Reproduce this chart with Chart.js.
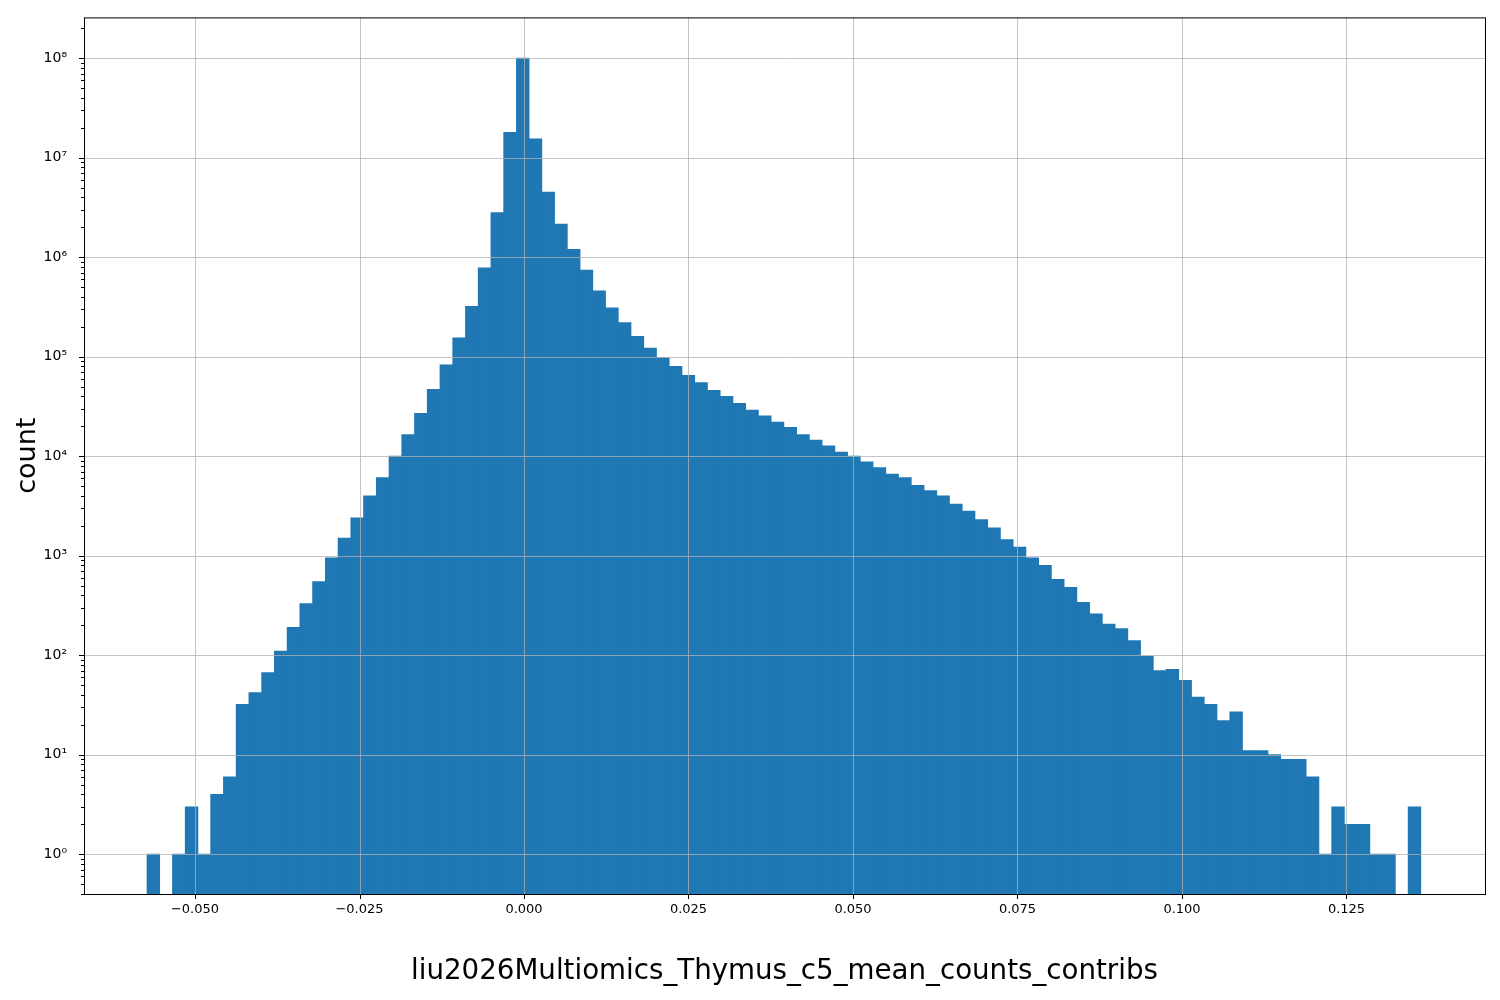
<!DOCTYPE html>
<html><head><meta charset="utf-8">
<script src="https://cdn.jsdelivr.net/npm/chart.js@4"></script>
<style>html,body{margin:0;padding:0;background:#fff}#w{width:1500px;height:1000px}</style>
</head><body><div id="w"><canvas id="c" width="1500" height="1000"></canvas></div>
<script>
const binStart = -0.0573;
const binWidth = 0.001936;
const counts = [1,0,1,3,1,4,6,32,42,67,110,190,330,550,950,1500,2400,4000,6100,10000,
16500,27000,47000,83000,155000,320000,780000,2800000,18000000,100000000,
15500000,4500000,2150000,1200000,740000,460000,310000,220000,160000,122000,
98000,80000,65000,55000,46000,40000,34000,29000,25500,22000,
19500,16500,14500,12700,11000,10000,8800,7700,6600,6100,
5100,4500,4000,3300,2800,2300,1900,1450,1220,950,
800,580,480,340,260,205,185,140,98,70,
72,56,38,32,22,27,11,11,10,9,
9,6,1,3,2,2,1,1,0,3];
const xTicks = [-0.05,-0.025,0,0.025,0.05,0.075,0.1,0.125];
const yTicks = [1,10,100,1e3,1e4,1e5,1e6,1e7,1e8];
const yMin = 0.398, yMax = 2.57e8;
const sup = {'0':'⁰','1':'¹','2':'²','3':'³','4':'⁴','5':'⁵','6':'⁶','7':'⁷','8':'⁸','-':'⁻'};
const data = counts.map((c,i)=>({x: binStart + binWidth*(i+0.5), y: c>0 ? [yMin, c] : null}));

const gridTop = {
  id:'gridTop',
  afterDatasetsDraw(ch){
    const {ctx, chartArea:a, scales:{x,y}} = ch;
    ctx.save();
    ctx.strokeStyle='rgba(176,176,176,0.75)'; ctx.lineWidth=1;
    xTicks.forEach(t=>{const p=Math.round(x.getPixelForValue(t))+0.5;ctx.beginPath();ctx.moveTo(p,a.top);ctx.lineTo(p,a.bottom);ctx.stroke();});
    yTicks.forEach(t=>{const p=Math.round(y.getPixelForValue(t))+0.5;ctx.beginPath();ctx.moveTo(a.left,p);ctx.lineTo(a.right,p);ctx.stroke();});
    ctx.strokeStyle='#000';
    xTicks.forEach(t=>{const p=Math.round(x.getPixelForValue(t))+0.5;ctx.beginPath();ctx.moveTo(p,a.bottom);ctx.lineTo(p,a.bottom+5);ctx.stroke();});
    yTicks.forEach(t=>{const p=Math.round(y.getPixelForValue(t))+0.5;ctx.beginPath();ctx.moveTo(a.left-5,p);ctx.lineTo(a.left,p);ctx.stroke();});
    for(let d=-1;d<=8;d++)for(let m=2;m<=9;m++){const v=m*Math.pow(10,d);if(v<yMin||v>yMax)continue;const p=Math.round(y.getPixelForValue(v))+0.5;ctx.beginPath();ctx.moveTo(a.left-3,p);ctx.lineTo(a.left,p);ctx.stroke();}
    ctx.strokeRect(a.left+0.5,a.top+0.5,a.right-a.left,a.bottom-a.top);
    ctx.restore();
  }
};

new Chart(document.getElementById('c'),{
  type:'bar',
  data:{datasets:[{data, backgroundColor:'#1f77b4', borderWidth:0, barPercentage:1, categoryPercentage:1, grouped:false}]},
  options:{
    responsive:false, animation:false,
    layout:{padding:{left:0,right:15,top:15,bottom:0}},
    plugins:{legend:{display:false},tooltip:{enabled:false}},
    scales:{
      x:{type:'linear', min:-0.06687, max:0.14605, offset:false,
        afterBuildTicks(s){s.ticks=xTicks.map(v=>({value:v}));},
        ticks:{color:'#000',font:{size:13,family:'DejaVu Sans'},maxRotation:0,padding:8,
          callback:v=>(v<0?'−':'')+Math.abs(v).toFixed(3)},
        grid:{display:false,drawTicks:false},border:{display:false},
        title:{display:true,text:'liu2026Multiomics_Thymus_c5_mean_counts_contribs',color:'#000',font:{size:27.7,family:'DejaVu Sans'},padding:{top:22,bottom:12}},
        afterFit(s){s.height=106;}
      },
      y:{type:'logarithmic', min:yMin, max:yMax,
        afterBuildTicks(s){s.ticks=yTicks.map(v=>({value:v}));},
        ticks:{color:'#000',font:{size:14,family:'DejaVu Sans'},padding:9,
          callback:v=>'10'+String(Math.round(Math.log10(v))).split('').map(c=>sup[c]).join('')},
        grid:{display:false},border:{display:false},
        title:{display:true,text:'count',color:'#000',font:{size:27,family:'DejaVu Sans'},padding:{top:12,bottom:6}},
        afterFit(s){s.width=84;}
      }
    }
  },
  plugins:[gridTop]
});
</script></body></html>
